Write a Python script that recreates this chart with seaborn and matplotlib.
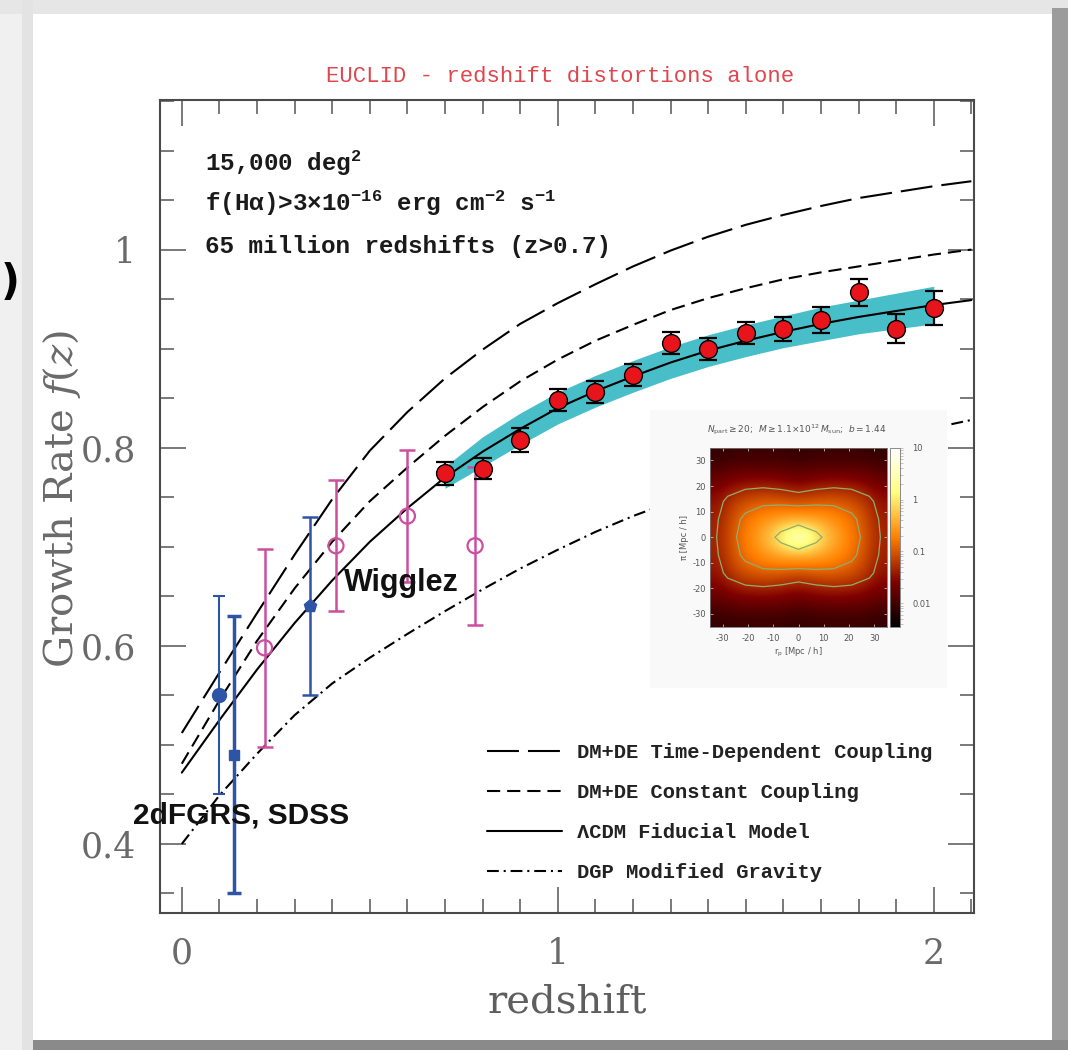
import numpy as np
import pandas as pd
import matplotlib
matplotlib.use("Agg")
import matplotlib.pyplot as plt
import seaborn as sns
from matplotlib.lines import Line2D
from matplotlib.patches import Rectangle
from matplotlib.colors import LogNorm
from matplotlib.cm import ScalarMappable
from matplotlib.ticker import MultipleLocator, FixedLocator, FuncFormatter
from matplotlib.font_manager import FontProperties

# ---------------------------------------------------------------- model curves
z_model = [0.0, 0.1, 0.2, 0.3, 0.4, 0.5, 0.6, 0.7, 0.8, 0.9, 1.0,
           1.1, 1.2, 1.3, 1.4, 1.5, 1.6, 1.7, 1.8, 1.9, 2.0, 2.1]
f_time_dep = [0.512, 0.573, 0.633, 0.692, 0.748, 0.797, 0.836, 0.870, 0.899, 0.925, 0.946,
              0.965, 0.983, 0.999, 1.013, 1.025, 1.035, 1.044, 1.052, 1.058, 1.064, 1.069]
f_const = [0.481, 0.545, 0.605, 0.658, 0.705, 0.746, 0.780, 0.812, 0.841, 0.867, 0.889,
           0.908, 0.924, 0.939, 0.951, 0.961, 0.970, 0.977, 0.983, 0.989, 0.995, 1.000]
f_lcdm = [0.472, 0.525, 0.576, 0.623, 0.666, 0.705, 0.739, 0.770, 0.796, 0.819, 0.840,
          0.857, 0.872, 0.886, 0.898, 0.908, 0.917, 0.925, 0.932, 0.938, 0.944, 0.949]
f_dgp = [0.400, 0.449, 0.491, 0.530, 0.562, 0.588, 0.612, 0.635, 0.657, 0.678, 0.697,
         0.715, 0.731, 0.745, 0.758, 0.770, 0.781, 0.792, 0.802, 0.811, 0.820, 0.828]

model_names = ["DM+DE Time-Dependent Coupling", "DM+DE Constant Coupling",
               "\u039bCDM Fiducial Model", "DGP Modified Gravity"]

# ---------------------------------------------------------------- EUCLID forecast
z_euclid = [0.7, 0.8, 0.9, 1.0, 1.1, 1.2, 1.3, 1.4, 1.5, 1.6, 1.7, 1.8, 1.9, 2.0]
f_euclid = [0.774, 0.779, 0.808, 0.848, 0.856, 0.873, 0.906, 0.900, 0.916, 0.920,
            0.929, 0.957, 0.920, 0.941]
err_euclid = [0.012, 0.011, 0.012, 0.011, 0.011, 0.011, 0.011, 0.011, 0.011, 0.012,
              0.013, 0.0135, 0.0145, 0.017]
band_halfwidth = [0.011, 0.015, 0.016, 0.016, 0.016, 0.016, 0.016, 0.016, 0.016, 0.016,
                  0.017, 0.017, 0.018, 0.019]

# ---------------------------------------------------------------- WiggleZ
z_wigglez = [0.22, 0.41, 0.60, 0.78]
f_wigglez = [0.598, 0.701, 0.731, 0.701]
err_wigglez = [0.100, 0.066, 0.067, 0.080]

# ---------------------------------------------------------------- 2dFGRS / SDSS
z_low = [0.10, 0.14, 0.34]
f_low = [0.550, 0.490, 0.640]
err_low = [0.100, 0.140, 0.090]
low_markers = ["o", "s", "p"]
low_msize = [10, 6.5, 9.5]
low_lw = [1.5, 2.5, 1.8]
low_cap = [4.5, 5.0, 6.0]

# ---------------------------------------------------------------- inset: log10 xi(r_p, pi), one quadrant
sep_quadrant = [0, 7, 14, 21, 28, 35]
log_xi_quadrant = [
    [0.90, 0.25, -0.35, -0.65, -0.95, -1.35],   # pi = 0
    [-0.35, -0.40, -0.55, -0.72, -1.00, -1.38],  # pi = 7
    [-0.95, -0.90, -0.88, -0.95, -1.12, -1.45],  # pi = 14
    [-1.45, -1.35, -1.30, -1.32, -1.40, -1.60],  # pi = 21
    [-1.80, -1.75, -1.72, -1.72, -1.75, -1.85],  # pi = 28
    [-2.10, -2.05, -2.05, -2.05, -2.05, -2.10],  # pi = 35
]
contour_levels = [-1.2, -0.8, 0.05]
log_xi_range = (-2.45, 1.0)

# ---------------------------------------------------------------- style
sns.set_theme(style="ticks")
plt.rcParams.update({
    "font.family": ["DejaVu Serif"],
    "lines.scale_dashes": False,
    "axes.linewidth": 1.5,
    "axes.edgecolor": "#4a4a4a",
    "axes.unicode_minus": False,
    "xtick.color": "#555555",
    "ytick.color": "#555555",
    "xtick.labelcolor": "#6a6a6a",
    "ytick.labelcolor": "#6a6a6a",
    "mathtext.rm": "Liberation Mono:bold",
    "mathtext.it": "Liberation Mono:bold",
    "mathtext.bf": "Liberation Mono:bold",
})

W, H = 1068, 1050
fig = plt.figure(figsize=(W / 100, H / 100), dpi=100)
fig.patch.set_facecolor("#f0f0f0")


def page_rect(x0, y0, x1, y1, color, z=-10):
    fig.add_artist(Rectangle((x0 / W, 1 - y1 / H), (x1 - x0) / W, (y1 - y0) / H,
                             transform=fig.transFigure, facecolor=color,
                             edgecolor="none", zorder=z))


# page card with its drop shadow
page_rect(0, 0, W, 14, "#e6e6e6")
page_rect(22, 0, 33, H, "#e3e3e3")
page_rect(33, 14, 1052, 1040, "white")
page_rect(1052, 8, W, H, "#9c9c9c")
page_rect(33, 1040, W, H, "#8a8a8a")

ax = fig.add_axes([160 / W, 1 - 913 / H, 814 / W, 813 / H])
ax.set_facecolor("white")

# model curves
dash_map = {
    model_names[0]: (23, 6.5),
    model_names[1]: (9.5, 5.0),
    model_names[2]: "",
    model_names[3]: (8.5, 3.5, 1.5, 3.5),
}
df_models = pd.DataFrame({
    "z": z_model * 4,
    "f": f_time_dep + f_const + f_lcdm + f_dgp,
    "model": sum([[m] * len(z_model) for m in model_names], []),
})
sns.lineplot(data=df_models, x="z", y="f", style="model", style_order=model_names,
             dashes=dash_map, color="black", linewidth=1.5, legend=False,
             estimator=None, ax=ax, zorder=2)

# EUCLID forecast band around the fiducial model
lcdm_at = dict(zip(np.round(z_model, 1), f_lcdm))
band_mid = np.array([lcdm_at[round(z, 1)] for z in z_euclid])
band_hw = np.array(band_halfwidth)
ax.fill_between(z_euclid, band_mid - band_hw, band_mid + band_hw,
                color="#48bec8", linewidth=0, zorder=1.5)

# 2dFGRS / SDSS
blue = "#2e55a5"
for z, f, e, m, ms, lw, cs in zip(z_low, f_low, err_low, low_markers, low_msize,
                                  low_lw, low_cap):
    ax.errorbar([z], [f], yerr=[e], fmt=m, ms=ms, color=blue, mfc=blue, mec=blue,
                elinewidth=lw, capsize=cs, capthick=lw, zorder=3)

# WiggleZ
mag = "#cc4e9f"
ax.errorbar(z_wigglez, f_wigglez, yerr=err_wigglez, fmt="none", ecolor=mag,
            elinewidth=1.8, capsize=6, capthick=1.8, zorder=3)
sns.scatterplot(x=z_wigglez, y=f_wigglez, marker="o", s=118, facecolors="none",
                edgecolor=mag, linewidth=1.6, ax=ax, zorder=3.2)

# EUCLID points
ax.errorbar(z_euclid, f_euclid, yerr=err_euclid, fmt="none", ecolor="black",
            elinewidth=1.6, capsize=6.5, capthick=1.6, zorder=4)
sns.scatterplot(x=z_euclid, y=f_euclid, marker="o", s=165, color="#e8141c",
                edgecolor="black", linewidth=1.0, ax=ax, zorder=5)

# axes
ax.set_xlim(-0.058, 2.107)
ax.set_ylim(0.3303, 1.151)
ax.xaxis.set_major_locator(FixedLocator([0, 1, 2]))
ax.xaxis.set_minor_locator(MultipleLocator(0.1))
ax.yaxis.set_major_locator(FixedLocator([0.4, 0.6, 0.8, 1.0]))
ax.yaxis.set_minor_locator(MultipleLocator(0.05))
ax.xaxis.set_major_formatter(FuncFormatter(lambda v, _: f"{v:.0f}"))
ax.yaxis.set_major_formatter(
    FuncFormatter(lambda v, _: "1" if abs(v - 1) < 1e-9 else f"{v:.1f}"))
ax.tick_params(which="both", direction="in", top=True, right=True, width=1.1)
ax.tick_params(which="major", length=19, labelsize=25, pad=17)
ax.tick_params(which="minor", length=10)
for lab in ax.get_xticklabels() + ax.get_yticklabels():
    lab.set_family("DejaVu Serif")

ax.set_xlabel("redshift", fontsize=29, color="#5e5e5e", family="DejaVu Serif")
ax.set_ylabel("Growth Rate $f(z)$", fontsize=29, color="#6a6a6a",
              family="DejaVu Serif", math_fontfamily="dejavuserif")
ax.xaxis.set_label_coords(0.5, -0.088)
ax.yaxis.set_label_coords(-0.094, 0.51)

# survey annotation
mono_b = ["Liberation Mono", "DejaVu Sans Mono"]
notes = ["15,000 deg$^2$",
         "f(H\u03b1)>3\u00d710$^{-16}$ erg cm$^{-2}$ s$^{-1}$",
         "65 million redshifts (z>0.7)"]
for txt, ypx in zip(notes, [163, 203, 246]):
    fig.text(205 / W, 1 - ypx / H, txt, family=mono_b, fontweight="bold",
             fontsize=17.5, color="#1a1a1a", ha="left", va="center",
             math_fontfamily="custom")

fig.text(560 / W, 1 - 76 / H, "EUCLID - redshift distortions alone",
         family=["Liberation Mono", "DejaVu Sans Mono"], fontsize=16,
         color="#e0464e", ha="center", va="center")

fig.text(133 / W, 1 - 815 / H, "2dFGRS, SDSS", family="Liberation Sans",
         fontweight="bold", fontsize=21.5, color="#111111", ha="left", va="center",
         zorder=10)
fig.text(344 / W, 1 - 583 / H, "Wigglez", family="Liberation Sans",
         fontweight="bold", fontsize=22, color="#111111", ha="left", va="center",
         zorder=10)

fig.text(1 / W, 1 - 283 / H, ")", family="DejaVu Sans", fontweight="bold",
         fontsize=30, color="black", ha="left", va="center")

# legend
handles = [Line2D([], [], color="black", linewidth=1.5,
                  linestyle=(0, dash_map[m]) if dash_map[m] else "-")
           for m in model_names]
leg = ax.legend(handles, model_names, loc="upper left",
                bbox_to_anchor=(486.7 / W, 1 - 743 / H), bbox_transform=fig.transFigure,
                frameon=False, prop=FontProperties(family=mono_b, weight="bold", size=14.8),
                handlelength=3.64, handletextpad=0.73, labelspacing=1.02,
                borderpad=0, borderaxespad=0)
for t in leg.get_texts():
    t.set_color("#222222")

# inset panel: redshift-space correlation function
box = Rectangle((650 / W, 1 - 688 / H), 297 / W, 278 / H, transform=fig.transFigure,
                facecolor="#f9f9f9", edgecolor="none", zorder=0.5)
fig.add_artist(box)

q = np.array(log_xi_quadrant)
half = np.hstack([q[:, :0:-1], q])
field = np.vstack([half[:0:-1], half])
sep = np.array(sep_quadrant)
axis_vals = np.concatenate([-sep[:0:-1], sep])

ax_in = fig.add_axes([710 / W, 1 - 626.7 / H, 177 / W, 179 / H])
ax_in.set_zorder(1)
ax_in.imshow(field, extent=(-35, 35, -35, 35), origin="lower", cmap="afmhot",
             vmin=log_xi_range[0], vmax=log_xi_range[1], interpolation="bicubic",
             aspect="auto")
ax_in.contour(axis_vals, axis_vals, field, levels=contour_levels,
              colors="#8fae6e", linewidths=0.9, linestyles="solid")
ax_in.set_xlim(-35, 35)
ax_in.set_ylim(-35, 35)
ax_in.set_xticks([-30, -20, -10, 0, 10, 20, 30])
ax_in.set_yticks([-30, -20, -10, 0, 10, 20, 30])
ax_in.tick_params(direction="in", length=2.5, width=0.6, color="#bbbbbb",
                  labelsize=6, labelcolor="#555555", top=True, right=True)
ax_in.tick_params(axis="y", pad=3)
ax_in.tick_params(axis="x", pad=5)
for lab in ax_in.get_xticklabels() + ax_in.get_yticklabels():
    lab.set_family("DejaVu Sans")
for s in ax_in.spines.values():
    s.set_linewidth(0.6)
    s.set_color("#777777")
ax_in.set_xlabel("r$_\\mathrm{p}$ [Mpc / h]", fontsize=6, color="#555555",
                 family="DejaVu Sans", labelpad=2, math_fontfamily="dejavusans")
ax_in.set_ylabel("\u03c0 [Mpc / h]", fontsize=6, color="#555555",
                 family="DejaVu Sans", labelpad=2)

cax = fig.add_axes([890 / W, 1 - 626.7 / H, 10 / W, 179 / H])
cax.set_zorder(1)
sm = ScalarMappable(norm=LogNorm(vmin=10 ** log_xi_range[0], vmax=10 ** log_xi_range[1]),
                    cmap="afmhot")
cb = fig.colorbar(sm, cax=cax)
cb.set_ticks([0.01, 0.1, 1, 10])
cb.set_ticklabels(["0.01", "0.1", "1", "10"])
cax.tick_params(which="both", labelsize=6, labelcolor="#555555", color="#aaaaaa",
                length=2, width=0.5, pad=7)
for lab in cax.get_yticklabels():
    lab.set_family("DejaVu Sans")
cb.outline.set_linewidth(0.6)
cb.outline.set_edgecolor("#777777")

fig.text(797 / W, 1 - 430 / H,
         "$N_\\mathrm{part}\\geq 20$;  $M\\geq 1.1{\\times}10^{12}\\,M_\\mathrm{sun}$;  $b = 1.44$",
         fontsize=6.5, color="#555555", ha="center", va="center", family="DejaVu Sans",
         math_fontfamily="dejavusans")

fig.savefig("out.png", dpi=100, facecolor=fig.get_facecolor())
